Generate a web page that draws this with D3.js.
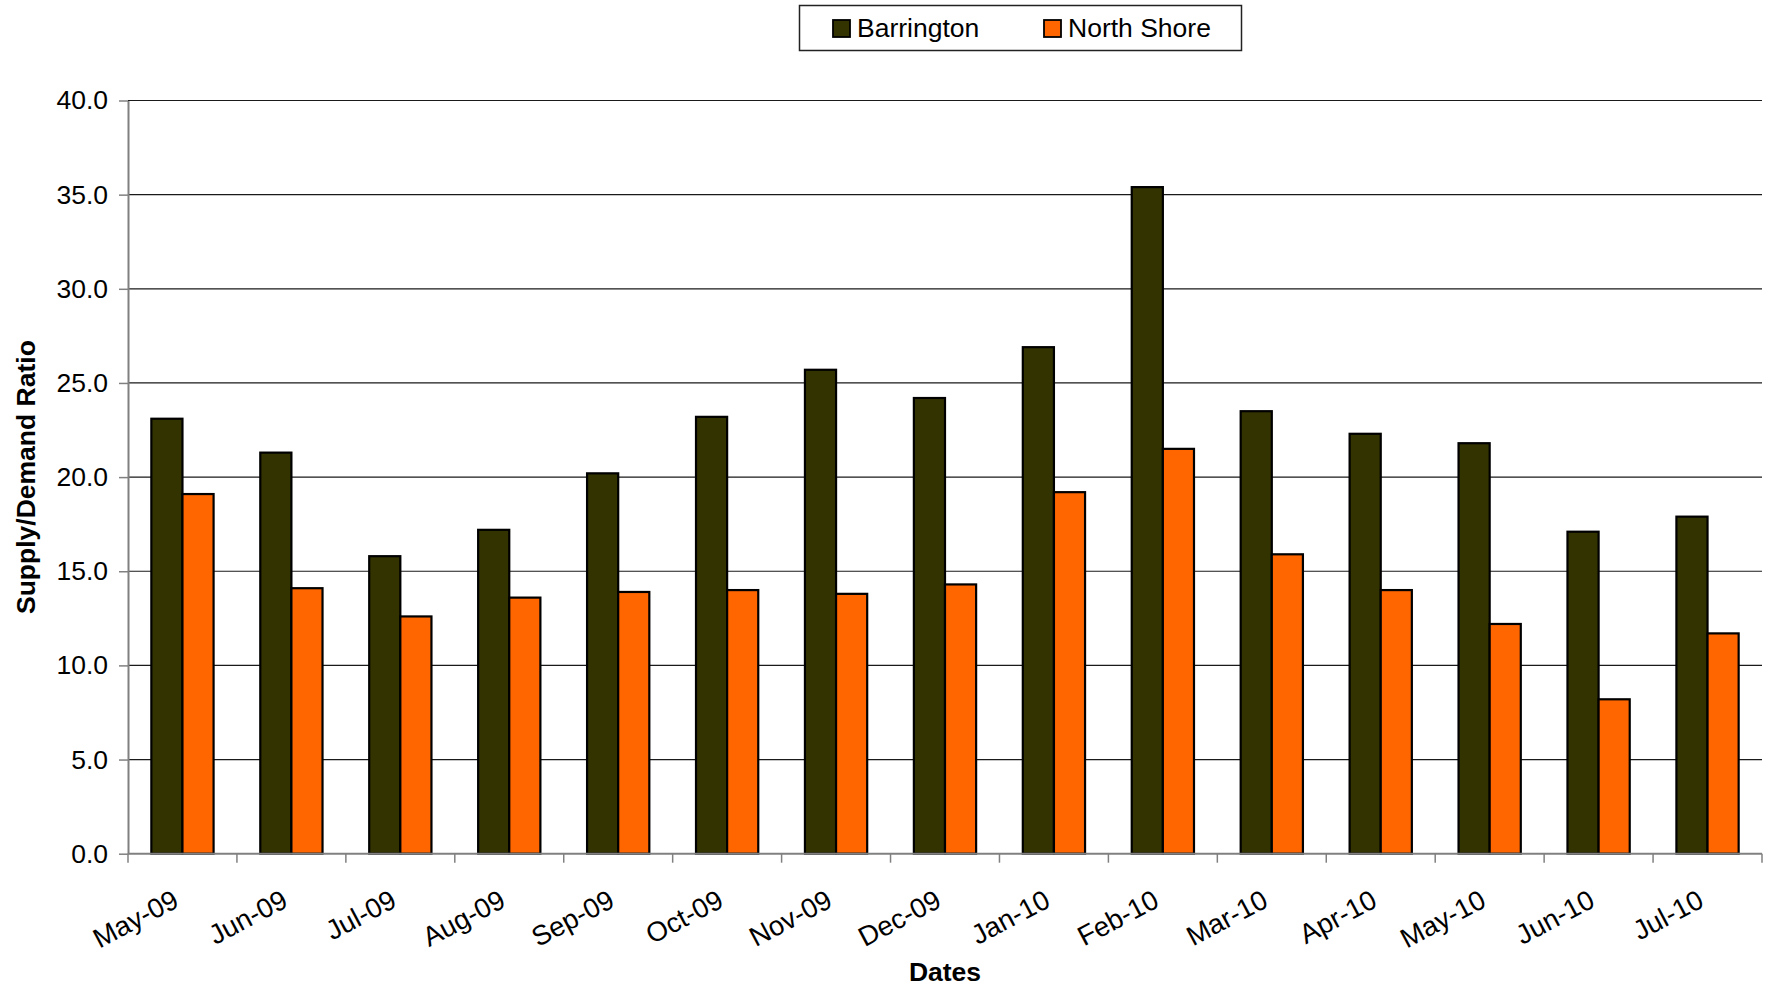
<!DOCTYPE html>
<html>
<head>
<meta charset="utf-8">
<script src="https://cdn.jsdelivr.net/npm/d3@7/dist/d3.min.js"></script>
<style>
  html, body { margin: 0; padding: 0; background: #fff; }
  svg { display: block; font-family: "Liberation Sans", Arial, Helvetica, sans-serif; }
</style>
</head>
<body>
<svg id="chart" width="1769" height="987"></svg>
<script>
// Monthly supply/demand ratio for two housing markets
const categories = ["May-09", "Jun-09", "Jul-09", "Aug-09", "Sep-09", "Oct-09", "Nov-09", "Dec-09",
                    "Jan-10", "Feb-10", "Mar-10", "Apr-10", "May-10", "Jun-10", "Jul-10"];
const barrington = [23.1, 21.3, 15.8, 17.2, 20.2, 23.2, 25.7, 24.2, 26.9, 35.4, 23.5, 22.3, 21.8, 17.1, 17.9];
const northShore = [19.1, 14.1, 12.6, 13.6, 13.9, 14.0, 13.8, 14.3, 19.2, 21.5, 15.9, 14.0, 12.2, 8.2, 11.7];
const seriesNames = ["Barrington", "North Shore"];
const seriesColors = ["#333300", "#FF6600"];
const yTicks = [0, 5, 10, 15, 20, 25, 30, 35, 40];

const svg = d3.select("#chart");
const plot = { left: 128, right: 1762, top: 100.5, bottom: 853.7 };

const x = d3.scaleBand().domain(categories).range([plot.left, plot.right]).paddingInner(0).paddingOuter(0);
// Two bars per category with a 150% gap between groups
const barW = x.bandwidth() / 3.5;
const xs = d3.scaleBand().domain(seriesNames).range([barW * 0.75, barW * 2.75]).padding(0);
const y = d3.scaleLinear().domain([0, 40]).range([plot.bottom, plot.top]);

// Horizontal gridlines
svg.append("g")
  .selectAll("line")
  .data(yTicks.filter(d => d > 0))
  .join("line")
  .attr("x1", plot.left).attr("x2", plot.right)
  .attr("y1", d => y(d)).attr("y2", d => y(d))
  .attr("stroke", "#1a1a1a").attr("stroke-width", 1.2);

// Bars
const rows = categories.map((c, i) => ({ cat: c, values: [barrington[i], northShore[i]] }));
const groups = svg.append("g").selectAll("g")
  .data(rows)
  .join("g")
  .attr("transform", d => `translate(${x(d.cat)},0)`);

groups.selectAll("rect")
  .data(d => d.values.map((v, k) => ({ name: seriesNames[k], value: v, color: seriesColors[k] })))
  .join("rect")
  .attr("x", d => xs(d.name))
  .attr("width", xs.bandwidth())
  .attr("y", d => y(d.value))
  .attr("height", d => y(0) - y(d.value))
  .attr("fill", d => d.color)
  .attr("stroke", "#000")
  .attr("stroke-width", 2.2);

// Y axis
const yAxis = svg.append("g")
  .attr("transform", `translate(${plot.left},0)`)
  .call(d3.axisLeft(y).tickValues(yTicks).tickFormat(d3.format(".1f")).tickSize(9).tickSizeOuter(0).tickPadding(11));
yAxis.select(".domain").attr("stroke", "#808080").attr("stroke-width", 2);
yAxis.selectAll(".tick line").attr("stroke", "#808080").attr("stroke-width", 1.5);
yAxis.selectAll(".tick text")
  .attr("font-size", 26.5).attr("fill", "#000")
  .attr("font-family", "'Liberation Sans', Arial, sans-serif");

// X axis with boundary ticks between categories
const xAxis = svg.append("g").attr("transform", `translate(0,${plot.bottom})`);
xAxis.append("line")
  .attr("x1", plot.left).attr("x2", plot.right)
  .attr("y1", 0).attr("y2", 0)
  .attr("stroke", "#808080").attr("stroke-width", 2);
const boundaries = categories.map(c => x(c)).concat([plot.right]);
xAxis.selectAll("line.tick")
  .data(boundaries)
  .join("line")
  .attr("class", "tick")
  .attr("x1", d => d).attr("x2", d => d)
  .attr("y1", 0).attr("y2", 9)
  .attr("stroke", "#808080").attr("stroke-width", 1.5);
xAxis.selectAll("text")
  .data(categories)
  .join("text")
  .attr("transform", d => `translate(${x(d) + x.bandwidth() / 2 - 2},${52}) rotate(-28)`)
  .attr("text-anchor", "end")
  .attr("font-size", 27.5)
  .attr("fill", "#000")
  .text(d => d);

// Axis titles
svg.append("text")
  .attr("x", (plot.left + plot.right) / 2)
  .attr("y", 981)
  .attr("text-anchor", "middle")
  .attr("font-size", 26.5)
  .attr("font-weight", "bold")
  .text("Dates");

svg.append("text")
  .attr("transform", `translate(35,${(plot.top + plot.bottom) / 2}) rotate(-90)`)
  .attr("text-anchor", "middle")
  .attr("font-size", 26.5)
  .attr("font-weight", "bold")
  .text("Supply/Demand Ratio");

// Legend
const legend = svg.append("g");
legend.append("rect")
  .attr("x", 799.5).attr("y", 5.5).attr("width", 442).attr("height", 45)
  .attr("fill", "#fff").attr("stroke", "#222").attr("stroke-width", 1.5);
const legendX = [833, 1044];
const items = legend.selectAll("g.item")
  .data(seriesNames)
  .join("g")
  .attr("class", "item")
  .attr("transform", (d, i) => `translate(${legendX[i]},0)`);
items.append("rect")
  .attr("x", 0).attr("y", 20).attr("width", 17).attr("height", 17)
  .attr("fill", (d, i) => seriesColors[i])
  .attr("stroke", "#000").attr("stroke-width", 1.8);
items.append("text")
  .attr("x", 24).attr("y", 37)
  .attr("font-size", 26.5)
  .attr("fill", "#000")
  .text(d => d);
</script>
</body>
</html>
